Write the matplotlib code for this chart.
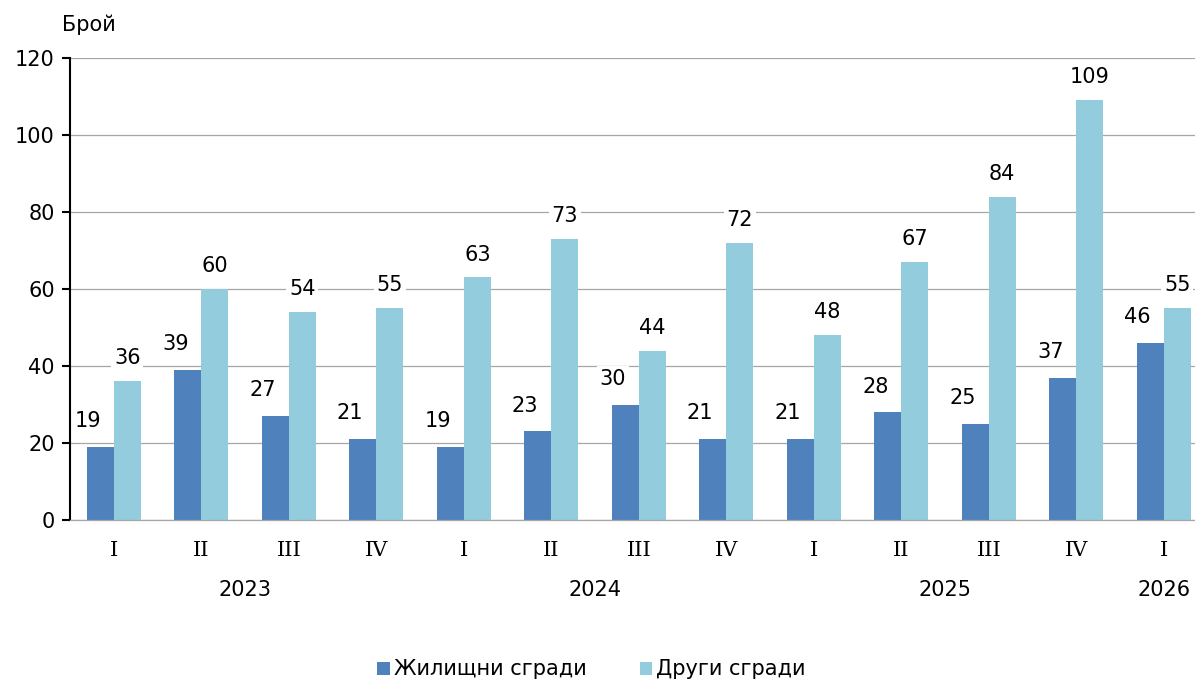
import numpy as np
import matplotlib
matplotlib.use('Agg')
import matplotlib.pyplot as plt
from matplotlib.transforms import blended_transform_factory

# данни
quarters = ['I', 'II', 'III', 'IV', 'I', 'II', 'III', 'IV', 'I', 'II', 'III', 'IV', 'I']
years = ['2023', '2024', '2025', '2026']
year_pos = [1.5, 5.5, 9.5, 12]
residential = [19, 39, 27, 21, 19, 23, 30, 21, 21, 28, 25, 37, 46]
other = [36, 60, 54, 55, 63, 73, 44, 72, 48, 67, 84, 109, 55]

c_dark = '#4F81BD'
c_light = '#93CDDD'
fs = 15

plt.rcParams['font.family'] = 'DejaVu Sans'

fig = plt.figure(figsize=(11.95, 6.79), dpi=100)
ax = fig.add_axes([70 / 1195, 1 - 520 / 679, 1125 / 1195, 462 / 679])

x = np.arange(len(quarters))
w = 0.31
b1 = ax.bar(x - w / 2, residential, w, color=c_dark, label='Жилищни сгради', zorder=2)
b2 = ax.bar(x + w / 2, other, w, color=c_light, label='Други сгради', zorder=2)

ax.set_ylim(0, 120)
ax.set_xlim(-0.5, -0.5 + 1125 / 87.5)
ax.set_yticks(range(0, 121, 20))
ax.yaxis.grid(True, color='#A6A6A6', linewidth=0.9, zorder=0)
ax.set_axisbelow(True)

for s in ['top', 'right']:
    ax.spines[s].set_visible(False)
ax.spines['bottom'].set_color('#A6A6A6')
ax.spines['bottom'].set_linewidth(0.9)
ax.spines['left'].set_color('black')
ax.spines['left'].set_linewidth(1.5)

ax.tick_params(axis='y', labelsize=fs, length=6, width=1.5, direction='out', pad=5)
ax.set_xticks(x)
ax.set_xticklabels(quarters, fontfamily='DejaVu Serif', fontsize=fs)
ax.tick_params(axis='x', length=0, pad=15)

box = dict(facecolor='white', edgecolor='none', pad=2)
for xi, v in zip(x, residential):
    ax.annotate(str(v), (xi - w / 2, v), xytext=(-9, 18.5), textcoords='offset points',
                ha='center', va='center', fontsize=fs, bbox=box, zorder=5,
                annotation_clip=False)
for xi, v in zip(x, other):
    ax.annotate(str(v), (xi + w / 2, v), xytext=(0, 16.5), textcoords='offset points',
                ha='center', va='center', fontsize=fs, bbox=box, zorder=5,
                annotation_clip=False)

trans = blended_transform_factory(ax.transData, ax.transAxes)
for yp, yl in zip(year_pos, years):
    ax.text(yp, -0.152, yl, transform=trans, ha='center', va='center', fontsize=fs)

fig.text(62 / 1195, 1 - 25 / 679, 'Брой', ha='left', va='center', fontsize=fs)

fig.legend(handles=[b1, b2], loc='center', bbox_to_anchor=(0.495, 0.014), ncol=2,
           frameon=False, fontsize=fs, handlelength=0.6, handleheight=0.6,
           handletextpad=0.2, columnspacing=2.55)

fig.savefig('out.png', dpi=100)
